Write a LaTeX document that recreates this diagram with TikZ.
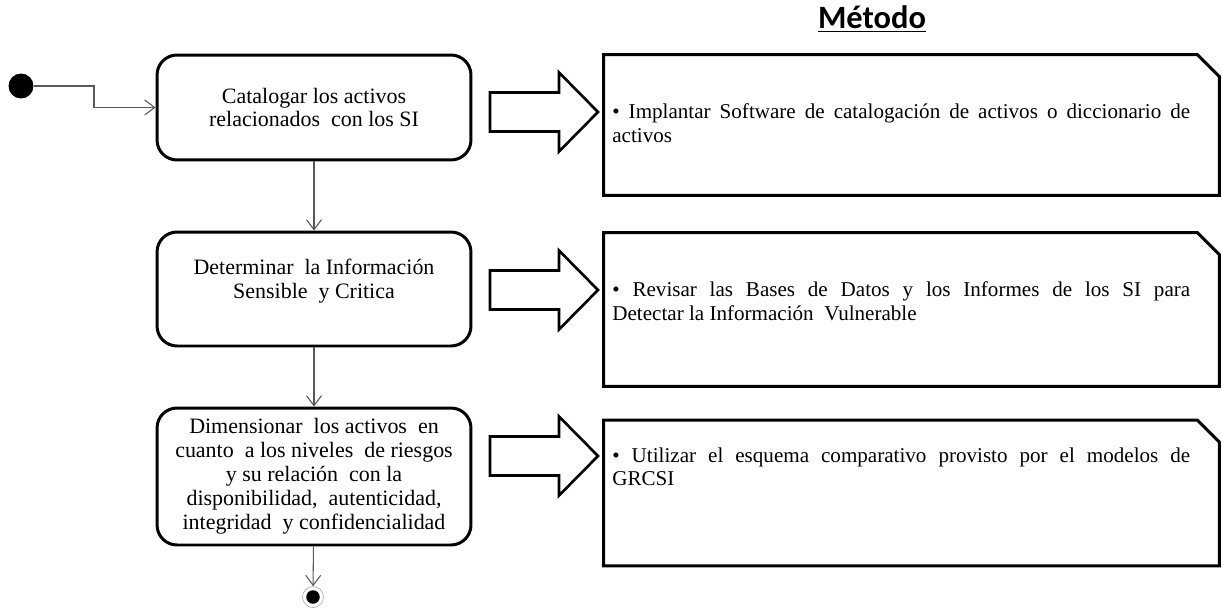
\documentclass[tikz,border=0pt]{standalone}
\usepackage{fontspec}
\setmainfont{Liberation Serif}
\newfontfamily\titlefont{Carlito}
\usetikzlibrary{arrows.meta}

\tikzset{
  activity/.style={draw=black, line width=1.7pt, rounded corners=0.4cm,
    minimum width=6.28cm, inner sep=0pt, align=center,
    font=\fontsize{12.5}{13.6}\selectfont},
  boxtext/.style={align=center, inner sep=0pt,
    font=\fontsize{12.5}{13.6}\selectfont},
  flow/.style={draw=black!65, line width=0.6pt,
    -{Straight Barb[length=0.2cm,width=0.3cm]}},
  method/.style={minimum width=12.3cm, inner sep=0pt},
  dogear/.style={draw=black, line width=1.7pt, line join=miter},
  methodtext/.style={text width=11.56cm, align=justify, inner sep=0pt,
    anchor=west, font=\fontsize{12}{13.4}\selectfont},
  bigarrow/.style={draw=black, line width=1.5pt, fill=white, line join=miter},
  blockarrow/.pic={
    \draw[bigarrow] (0,-19.5) -- (69,-19.5) -- (69,-39.5) -- (108,0)
      -- (69,39.5) -- (69,19.5) -- (0,19.5) -- cycle;
  },
}

\begin{document}
\begin{tikzpicture}[x=0.02cm, y=-0.02cm]
\useasboundingbox (0,0) rectangle (1222,612);

% title
\node[font=\titlefont\bfseries\fontsize{18.5}{20}\selectfont, anchor=base]
  (title) at (872,29) {\underline{Método}};

% initial and final states
\node[circle, fill=black, minimum size=0.5cm, inner sep=0pt] (start) at (21,86) {};
\node[circle, draw=black!30, line width=0.4pt, minimum size=0.42cm, inner sep=0pt,
  path picture={\fill[black] (path picture bounding box.center) circle (0.135cm);}]
  (end) at (313,597) {};

% activities
\node[activity, minimum height=2.1cm] (b1) at (314,107.5)
  {Catalogar los activos\\relacionados \ con los SI};
\node[activity, minimum height=2.28cm] (b2) at (314,289) {};
\node[boxtext] (t2) at ([yshift=0.16cm]b2.center)
  {Determinar \ la Información\\Sensible \ y Critica};
\node[activity, minimum height=2.74cm] (b3) at (314,476.5)
  {Dimensionar \ los activos \ en\\cuanto \ a los niveles \ de riesgos\\y su relación \ con la\\disponibilidad, \ autenticidad,\\integridad \ y confidencialidad};

% control flow
\coordinate (bend) at (94,86);
\draw[flow] (start) -- (bend) |- (b1.west);
\draw[flow] (b1) -- (b2);
\draw[flow] (b2) -- (b3);
\draw[flow] (b3) -- (end);

% method boxes
\node[method, minimum height=2.8cm] (mA) at (911.5,125) {};
\node[method, minimum height=3.06cm] (mB) at (911.5,309.5) {};
\node[method, minimum height=2.9cm] (mC) at (911.5,493) {};
\foreach \m in {mA,mB,mC}{
  \draw[dogear] (\m.south west) -- (\m.north west)
    -- ([xshift=-0.44cm]\m.north east) -- ([yshift=-0.44cm]\m.north east)
    -- (\m.south east) -- cycle;
}
\node[methodtext] (tA) at (612,123)
  {• Implantar Software de catalogación de activos o diccionario de\linebreak activos};
\node[methodtext] (tB) at (612,301)
  {• Revisar las Bases de Datos y los Informes de los SI para\linebreak Detectar la Información \ Vulnerable};
\node[methodtext] (tC) at (612,467)
  {• Utilizar el esquema comparativo provisto por el modelos de\linebreak GRCSI};

% block arrows from activities to methods
\pic at (490,112) {blockarrow};
\pic at (490,290) {blockarrow};
\pic at (490,456) {blockarrow};
\end{tikzpicture}
\end{document}
